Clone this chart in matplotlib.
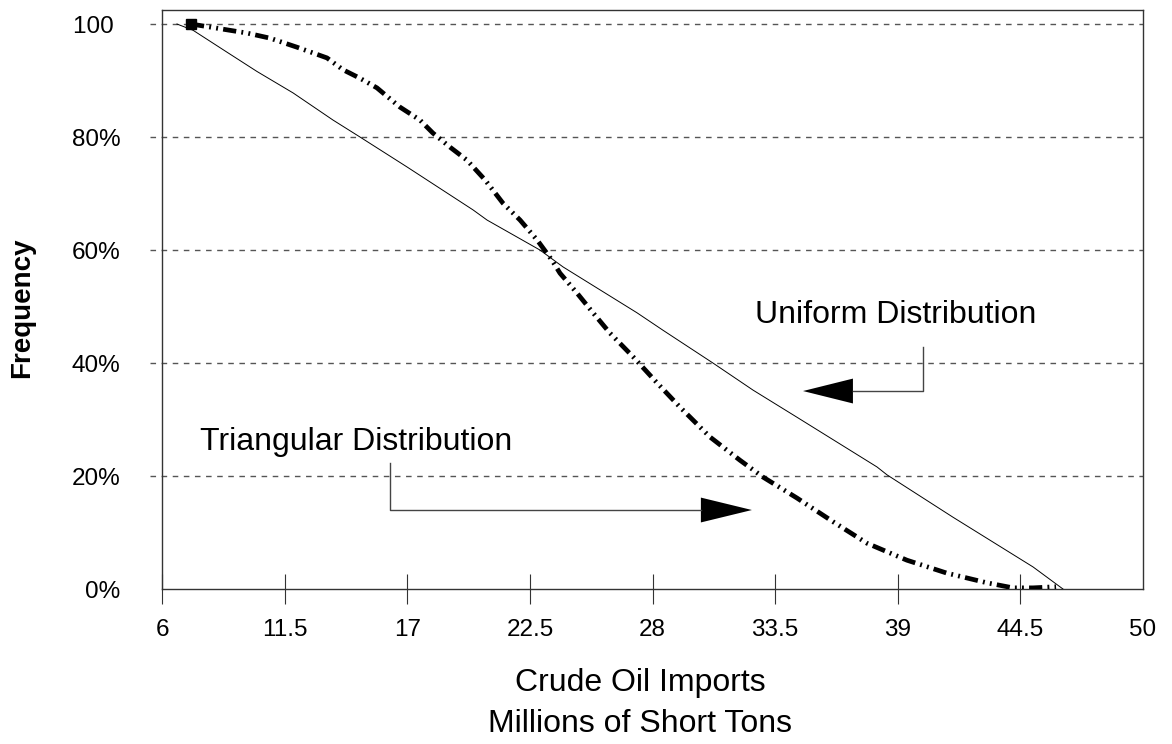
import matplotlib
matplotlib.use("Agg")
import matplotlib.pyplot as plt

plt.rcParams['font.family'] = ['Liberation Sans', 'DejaVu Sans']

# Descending cumulative frequency (% of trials at or above a value)
uniform_x = [6.67, 7.39, 8.92, 10.26, 11.88, 13.67, 14.88, 16.99, 19.95, 20.58,
             22.95, 23.99, 27.30, 28.47, 30.71, 32.51, 34.48, 38.07, 38.52,
             41.48, 45.07, 46.41]
uniform_y = [100.0, 98.9, 95.0, 91.6, 87.8, 83.0, 80.0, 74.7, 67.1, 65.3,
             60.0, 57.0, 48.9, 45.8, 40.0, 35.2, 30.4, 21.6, 20.2, 12.7,
             3.9, 0.0]

triangular_x = [7.30, 9.81, 10.84, 12.05, 13.40, 14.12, 14.88, 15.64, 16.67,
                17.57, 18.15, 18.92, 19.68, 20.49, 21.29, 22.06, 22.82, 23.49,
                23.85, 24.61, 25.33, 26.09, 27.13, 28.20, 29.23, 30.58, 31.92,
                32.96, 34.48, 36.10, 37.62, 39.41, 41.21, 43.00, 44.17, 45.07,
                46.10]
triangular_y = [100.0, 98.4, 97.5, 95.9, 94.0, 91.9, 90.4, 88.7, 85.3, 83.0,
                80.7, 78.2, 75.9, 72.4, 68.3, 65.3, 61.8, 58.2, 55.9, 52.4,
                48.9, 45.3, 41.1, 36.5, 32.2, 26.9, 22.8, 19.8, 16.1, 11.9,
                8.1, 5.1, 2.8, 1.1, 0.2, 0.2, 0.4]

x_ticks = [6, 11.5, 17, 22.5, 28, 33.5, 39, 44.5, 50]
x_tick_labels = ["6", "11.5", "17", "22.5", "28", "33.5", "39", "44.5", "50"]
y_ticks = [0, 20, 40, 60, 80, 100]
y_tick_labels = ["0%", "20%", "40%", "60%", "80%", "100 "]

fig = plt.figure(figsize=(11.72, 7.44), dpi=100)
ax = fig.add_axes([162 / 1172, 1 - 589 / 744, (1143 - 162) / 1172, (589 - 10) / 744])
ax.set_xlim(6, 50)
ax.set_ylim(0, 102.48)

# dashed horizontal guides, poking slightly past the left frame
for yv in y_ticks[1:]:
    ax.axhline(yv, xmin=-0.012, xmax=1, color='#555555', lw=1.0,
               linestyle=(0, (4, 4)), clip_on=False, zorder=1)

ax.plot(uniform_x, uniform_y, color='black', lw=0.7, zorder=3)
ax.plot(triangular_x, triangular_y, color='black', lw=3.4,
        linestyle=(0, (2.8, 1.1, 0.4, 1.1, 0.4, 1.1)),
        marker='s', markersize=7, markevery=[0], zorder=4)

for side in ['left', 'right', 'top', 'bottom']:
    ax.spines[side].set_color('#333333')
    ax.spines[side].set_linewidth(1.0)

ax.set_xticks(x_ticks)
ax.set_xticklabels(x_tick_labels, fontsize=17.5)
ax.tick_params(axis='x', direction='inout', length=21.6, width=0.8,
               color='#333333', pad=11)
ax.xaxis.get_major_ticks()[-1].tick1line.set_visible(False)

ax.set_yticks(y_ticks)
ax.set_yticklabels(y_tick_labels, fontsize=17.5)
ax.tick_params(axis='y', length=0, pad=30)

# callout: uniform curve
ax.text(32.6, 47.1, "Uniform Distribution", fontsize=23, va='baseline', ha='left')
ax.plot([40.13, 40.13, 36.99], [42.83, 35.04, 35.04], color='#444444', lw=1.0)
ax.fill([36.99, 36.99, 34.75], [35.04 + 2.2, 35.04 - 2.2, 35.04], color='black', lw=0)

# callout: triangular curve
ax.text(7.70, 24.6, "Triangular Distribution", fontsize=23, va='baseline', ha='left')
ax.plot([16.23, 16.23, 30.17], [22.30, 13.98, 13.98], color='#444444', lw=1.0)
ax.fill([30.17, 30.17, 32.46], [13.98 + 2.2, 13.98 - 2.2, 13.98], color='black', lw=0)

fig.text(640 / 1172, 1 - 683 / 744, "Crude Oil Imports", fontsize=23,
         ha='center', va='center')
fig.text(640 / 1172, 1 - 724 / 744, "Millions of Short Tons", fontsize=23,
         ha='center', va='center')
fig.text(22 / 1172, 1 - 308 / 744, "Frequency", fontsize=20, fontweight='bold',
         rotation=90, ha='center', va='center')

fig.savefig("out.png", dpi=100)
